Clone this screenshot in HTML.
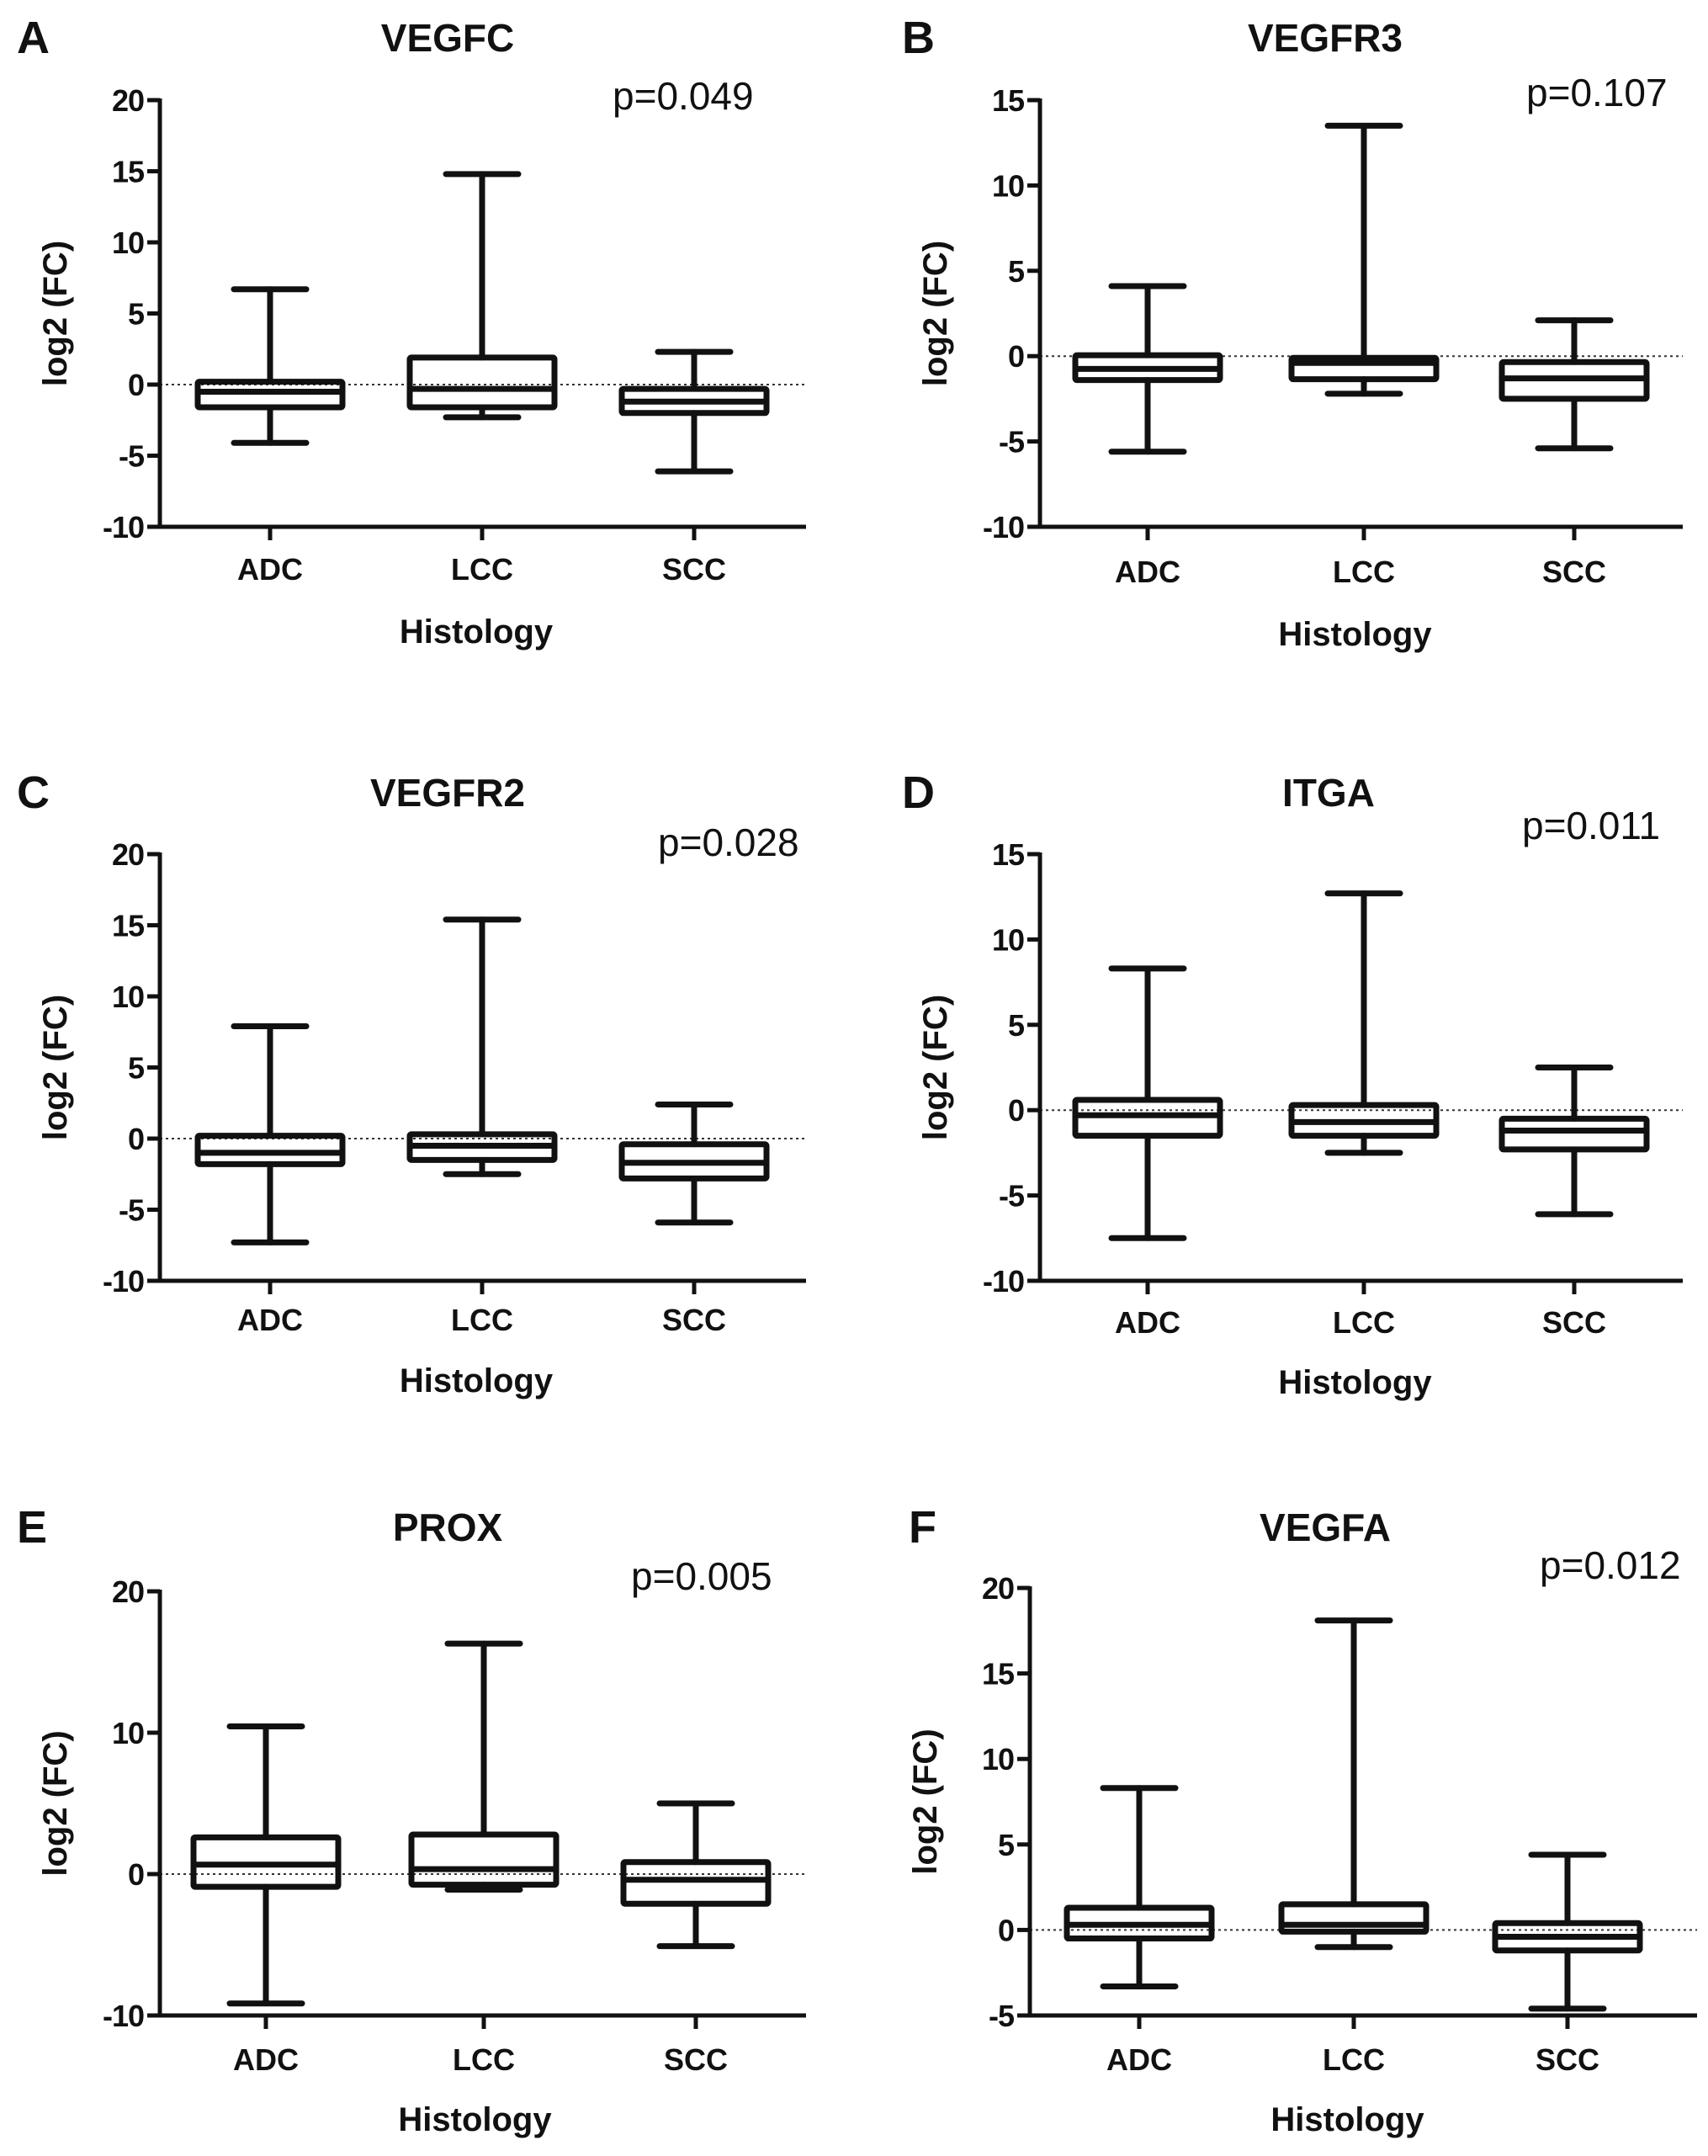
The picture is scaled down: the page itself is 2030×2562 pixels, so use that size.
<!DOCTYPE html>
<html><head><meta charset="utf-8"><style>
html,body{margin:0;padding:0;background:#fff;}
svg{display:block;}
text{font-family:"Liberation Sans",Arial,sans-serif;fill:#111;}
</style></head><body>
<svg id="fig" width="2030" height="2562" viewBox="0 0 2030 2562" xmlns="http://www.w3.org/2000/svg"></svg>
<script>
// ---- data ----
const categories = ["ADC","LCC","SCC"];
const geneNames = ["VEGFC","VEGFR3","VEGFR2","ITGA","PROX","VEGFA"];
const panelLetters = ["A","B","C","D","E","F"];
const pValues = ["p=0.049","p=0.107","p=0.028","p=0.011","p=0.005","p=0.012"];
// per category: [whisker max, Q3, median, Q1, whisker min]
const vegfcData  = [[6.7,0.2,-0.5,-1.6,-4.1],[14.8,1.9,-0.3,-1.6,-2.3],[2.3,-0.3,-1.2,-2.0,-6.1]];
const vegfr3Data = [[4.1,0.05,-0.75,-1.4,-5.6],[13.5,-0.1,-0.4,-1.35,-2.2],[2.1,-0.35,-1.3,-2.5,-5.4]];
const vegfr2Data = [[7.9,0.2,-1.0,-1.8,-7.3],[15.4,0.3,-0.5,-1.5,-2.5],[2.4,-0.4,-1.7,-2.8,-5.9]];
const itgaData   = [[8.3,0.6,-0.3,-1.5,-7.5],[12.7,0.3,-0.7,-1.5,-2.5],[2.5,-0.5,-1.2,-2.3,-6.1]];
const proxData   = [[10.45,2.6,0.67,-0.9,-9.15],[16.3,2.8,0.35,-0.75,-1.1],[5.0,0.85,-0.4,-2.1,-5.1]];
const vegfaData  = [[8.3,1.3,0.3,-0.5,-3.3],[18.1,1.5,0.3,-0.1,-1.0],[4.4,0.4,-0.4,-1.2,-4.6]];
const tickVegfc  = [20,15,10,5,0,-5,-10];
const tickVegfr3 = [15,10,5,0,-5,-10];
const tickVegfr2 = [20,15,10,5,0,-5,-10];
const tickItga   = [15,10,5,0,-5,-10];
const tickProx   = [20,10,0,-10];
const tickVegfa  = [20,15,10,5,0,-5];

// ---- layout ----
const panels = [
 {data:vegfcData, ticks:tickVegfc, x0:190,x1:958,yT:119,yB:626,cx:[321,573,825],titleX:532,titleY:44,letX:20,pX:728,pY:115,catY:676,histY:750},
 {data:vegfr3Data,ticks:tickVegfr3,x0:1236,x1:2000,yT:119,yB:626,cx:[1364,1621,1871],titleX:1575,titleY:44,letX:1072,pX:1814,pY:111,catY:679,histY:753},
 {data:vegfr2Data,ticks:tickVegfr2,x0:190,x1:958,yT:1015,yB:1522,cx:[321,573,825],titleX:532,titleY:941,letX:20,pX:782,pY:1002,catY:1568,histY:1640},
 {data:itgaData,  ticks:tickItga,  x0:1236,x1:2000,yT:1015,yB:1522,cx:[1364,1621,1871],titleX:1579,titleY:941,letX:1072,pX:1809,pY:982,catY:1571,histY:1642},
 {data:proxData,  ticks:tickProx,  x0:190,x1:958,yT:1891,yB:2395,cx:[316,575,827],titleX:532,titleY:1814,letX:20,pX:750,pY:1874,catY:2447,histY:2518},
 {data:vegfaData, ticks:tickVegfa, x0:1224,x1:2017,yT:1887,yB:2395,cx:[1354,1609,1863],titleX:1575,titleY:1814,letX:1080,pX:1830,pY:1861,catY:2447,histY:2518}
];
const NS="http://www.w3.org/2000/svg";
const svg=document.getElementById('fig');
function mk(tag,attrs,parent){const e=document.createElementNS(NS,tag);for(const k in attrs)e.setAttribute(k,attrs[k]);(parent||svg).appendChild(e);return e;}

panels.forEach((p,i)=>{
  const g=mk('g',{});
  
  
  const vmax=p.ticks[0], vmin=p.ticks[p.ticks.length-1];
  const y=v=>p.yT+(vmax-v)/(vmax-vmin)*(p.yB-p.yT);
  let t=mk('text',{x:p.letX,y:p.titleY+19,'font-size':54,'font-weight':'bold'},g);t.textContent=panelLetters[i];
  
  
  t=mk('text',{x:p.titleX,y:p.titleY+17,'font-size':46,'font-weight':'bold','text-anchor':'middle'},g);t.textContent=geneNames[i];
  
  
  t=mk('text',{x:p.pX,y:p.pY+15,'font-size':46},g);t.textContent=pValues[i];
  
  
  const z=mk('line',{x1:p.x0,x2:p.x1,y1:y(0),y2:y(0),stroke:'#333','stroke-width':2,'stroke-dasharray':'3,4'},g);
  
  
  const ax=mk('path',{d:`M${p.x0},${p.yT-2}V${p.yB}H${p.x1}`,fill:'none',stroke:'#111','stroke-width':5},g);
  
  
  p.ticks.forEach(v=>{
    const l=mk('line',{x1:p.x0-15,x2:p.x0,y1:y(v),y2:y(v),stroke:'#111','stroke-width':5},g);
    
    
    const tx=mk('text',{x:p.x0-19,y:y(v)+13,'font-size':36,'font-weight':'bold','text-anchor':'end','letter-spacing':'-1'},g);tx.textContent=v;
    
    
  });
  const yt=mk('text',{x:0,y:0,'font-size':40,'font-weight':'bold','text-anchor':'middle',transform:`translate(${p.x0-111},${(p.yT+p.yB)/2}) rotate(-90)`},g);yt.textContent='log2 (FC)';
  
  
  const ht=mk('text',{x:(p.cx[0]+p.cx[2])/2-7,y:p.histY+14,'font-size':40,'font-weight':'bold','text-anchor':'middle'},g);ht.textContent='Histology';
  
  
  categories.forEach((c,j)=>{
    const cx=p.cx[j], d=p.data[j];
    const tk=mk('line',{x1:cx,x2:cx,y1:p.yB,y2:p.yB+16,stroke:'#111','stroke-width':5},g);
    
    
    const lb=mk('text',{x:cx,y:p.catY+13,'font-size':36,'font-weight':'bold','text-anchor':'middle'},g);lb.textContent=c;
    
    
    const bg=mk('g',{stroke:'#111','stroke-width':7,fill:'none','stroke-linecap':'round'},g);
    
    
    const bw=86, cw=43;
    mk('line',{x1:cx,x2:cx,y1:y(d[0]),y2:y(d[1])},bg);
    mk('line',{x1:cx,x2:cx,y1:y(d[3]),y2:y(d[4])},bg);
    mk('line',{x1:cx-cw,x2:cx+cw,y1:y(d[0]),y2:y(d[0])},bg);
    mk('line',{x1:cx-cw,x2:cx+cw,y1:y(d[4]),y2:y(d[4])},bg);
    mk('rect',{x:cx-bw,y:y(d[1]),width:2*bw,height:y(d[3])-y(d[1]),rx:2,fill:'none','stroke-linejoin':'round'},bg);
    mk('line',{x1:cx-bw,x2:cx+bw,y1:y(d[2]),y2:y(d[2])},bg);
  });
});
</script>
</body></html>
